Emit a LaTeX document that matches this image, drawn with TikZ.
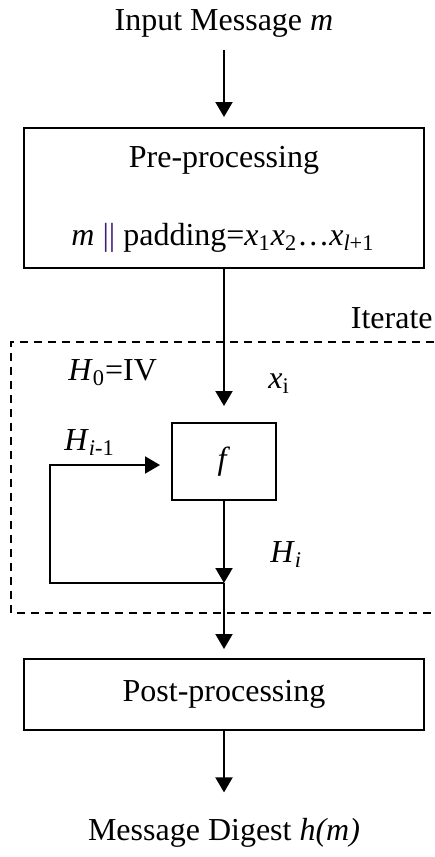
\documentclass[tikz,border=0pt]{standalone}
\usepackage{fontspec}
\setmainfont{Liberation Serif}
\usetikzlibrary{arrows.meta,positioning}
\definecolor{barcol}{RGB}{70,30,120}
\tikzset{
  flow/.style={-{Triangle[length=7.5pt,width=8.5pt]},line width=1pt},
  stagebox/.style={draw,line width=1pt,minimum width=200pt,inner sep=0pt},
  lbl/.style={inner sep=0pt},
}
\begin{document}
\begin{tikzpicture}[x=0.5pt,y=-0.5pt,font=\fontsize{16}{19}\selectfont]
    \useasboundingbox (0,0) rectangle (434,857);

    % --- Input ---
    \node[lbl,anchor=base] (in) at (224,30) {Input Message \textit{m}};

    % --- Pre-processing ---
    \node[stagebox,minimum height=70pt] (pre) at (224,198) {};
    \node[lbl,anchor=base] (pretitle) at (224,167) {Pre-processing};
    \node[lbl,anchor=base] (pad) at (223,245) {\textit{m} {\color{barcol}||} padding=\textit{x}\textsubscript{1}\textit{x}\textsubscript{2}…\textit{x}\textsubscript{\textit{l}+1}};

    % --- Iterate block ---
    \draw[dash pattern=on 4pt off 3pt,line width=1pt] (434,342) -| (11,613) -- (434,613);
    \node[lbl,anchor=base east] (iter) at (433,328) {Iterate};
    \node[lbl,anchor=base west] (h0) at (68,380) {\textit{H}\textsubscript{0}=IV};
    \node[draw,line width=1pt,minimum width=52pt,minimum height=38.5pt] (f) at (224,461.5) {\textit{f}};
    \node[lbl,anchor=base west] (xi) at (268,388) {\textit{x}\textsubscript{i}};
    \node[lbl,anchor=base west] (hprev) at (64,450) {\textit{H}\textsubscript{\textit{i}-1}};
    \node[lbl,anchor=base west] (hi) at (270,562) {\textit{H}\textsubscript{\textit{i}}};
    \coordinate (join) at (224,583);
    \coordinate (loop) at (50,465);

    % --- Post-processing ---
    \node[stagebox,minimum height=35.5pt] (post) at (224,694.5) {Post-processing};
    \node[lbl,anchor=base] (out) at (224,840) {Message Digest \textit{h(m)}};

    % --- Connectors ---
    \draw[flow,shorten <=6.5pt,shorten >=5pt] (in.south) -- (pre.north);
    \draw[flow,shorten >=8pt] (pre.south) -- (f.north);
    \draw[flow] (f.south) -- (join);
    \draw[flow,shorten >=5.5pt] (join) -| (loop) -- (loop -| f.west);
    \draw[flow,shorten >=4.5pt] (join) -- (post.north);
    \draw[flow,shorten >=12.5pt] (post.south) -- (out.north);

  \end{tikzpicture}
\end{document}
